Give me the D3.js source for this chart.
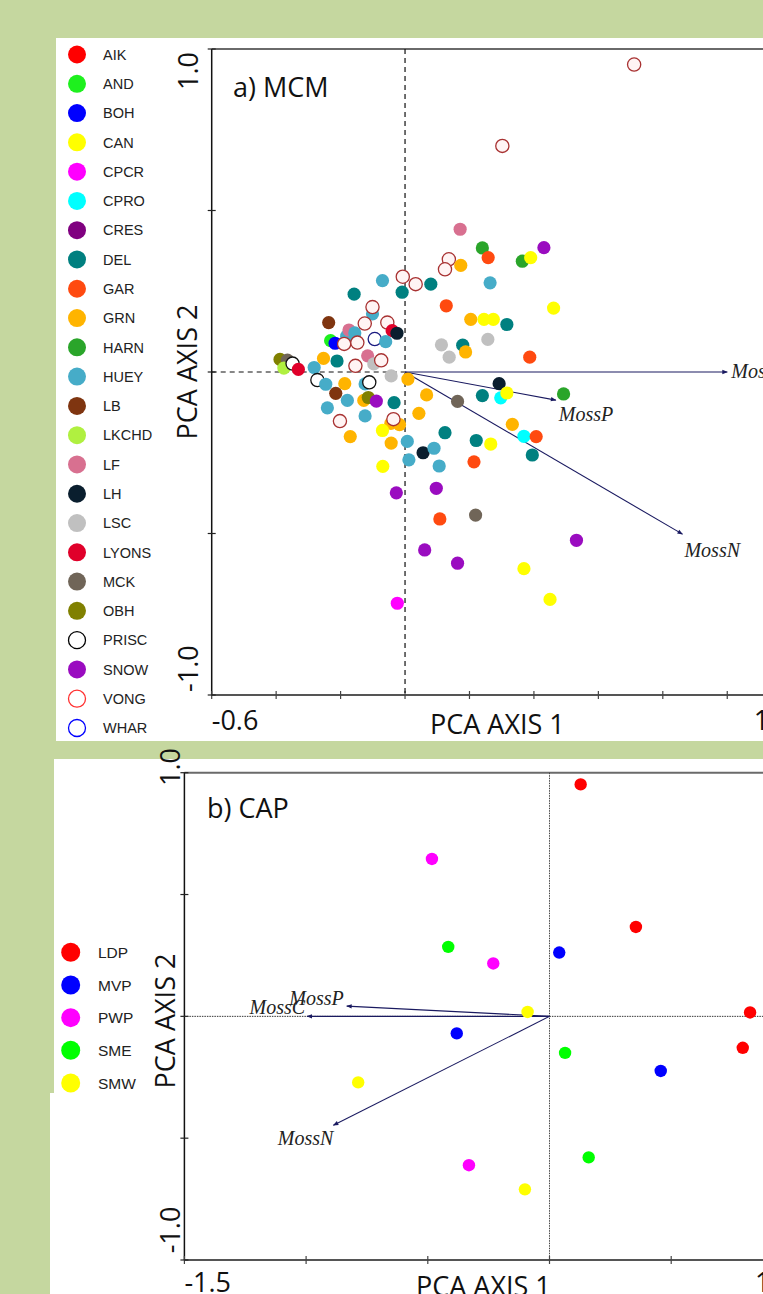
<!DOCTYPE html>
<html><head><meta charset="utf-8">
<script src="https://cdn.jsdelivr.net/npm/d3@7/dist/d3.min.js"></script>
<style>html,body{margin:0;padding:0;background:#c5d79f;overflow:hidden}</style>
</head><body><svg id="c" width="763" height="1294"></svg>
<script>
// ---------- Panel a) MCM ----------
const mcmGroups = ["AIK","AND","BOH","CAN","CPCR","CPRO","CRES","DEL","GAR","GRN","HARN","HUEY","LB","LKCHD","LF","LH","LSC","LYONS","MCK","OBH","PRISC","SNOW","VONG","WHAR"];
const mcmColors = ["#ff0000","#1ef01e","#0000ff","#ffff00","#ff00ff","#00ffff","#800080","#008080","#ff4a10","#ffb400","#2aa52a","#46acc8","#7f3510","#b0f040","#d87090","#0a1e2e","#c0c0c0","#e0002a","#706558","#808000","#000000","#9a0cc0","#ff3030","#0000ff"];
const mcmOpenGroups = ["PRISC","VONG","WHAR"];
const mcmOpenPlotStroke = {PRISC:"#111111", VONG:"#a83232", WHAR:"#1a1a80"};
const mcmPoints = [
  ["OBH",-0.388,0.039],["MCK",-0.365,0.037],["LKCHD",-0.376,0.012],["PRISC",-0.349,0.026],["LYONS",-0.331,0.008],
  ["HUEY",-0.282,0.014],["GRN",-0.253,0.042],["DEL",-0.211,0.034],["LB",-0.237,0.153],["AND",-0.231,0.097],["BOH",-0.217,0.089],
  ["HUEY",-0.181,0.111],["LF",-0.174,0.130],["HUEY",-0.156,0.121],["VONG",-0.189,0.087],["VONG",-0.148,0.091],
  ["DEL",-0.158,0.241],["HUEY",-0.070,0.283],["DEL",-0.009,0.247],["VONG",-0.007,0.295],["VONG",0.033,0.272],["DEL",0.080,0.272],
  ["HUEY",-0.101,0.180],["VONG",-0.101,0.201],["VONG",-0.125,0.150],["VONG",-0.055,0.153],["LYONS",-0.040,0.128],["LH",-0.025,0.120],
  ["WHAR",-0.094,0.102],["HUEY",-0.060,0.094],["LF",-0.116,0.050],["LSC",-0.097,0.025],["VONG",-0.074,0.036],["VONG",-0.154,0.019],
  ["PRISC",-0.272,-0.025],["HUEY",-0.246,-0.038],["GRN",-0.187,-0.036],["HUEY",-0.124,-0.037],["PRISC",-0.111,-0.032],
  ["LSC",-0.043,-0.012],["GRN",0.009,-0.022],["LB",-0.215,-0.066],["HUEY",-0.179,-0.088],["GRN",-0.128,-0.088],["OBH",-0.114,-0.079],
  ["SNOW",-0.089,-0.090],["DEL",-0.034,-0.095],["GRN",0.067,-0.071],["MCK",0.163,-0.091],["HUEY",-0.241,-0.111],["HUEY",-0.124,-0.136],
  ["VONG",-0.202,-0.152],["GRN",-0.044,-0.159],["GRN",-0.017,-0.163],["VONG",-0.036,-0.146],["GRN",0.043,-0.128],["CAN",-0.070,-0.181],
  ["GRN",-0.170,-0.200],["GRN",-0.043,-0.220],["HUEY",0.007,-0.215],["DEL",0.124,-0.188],["DEL",0.221,-0.212],["CAN",0.266,-0.223],
  ["LH",0.056,-0.250],["HUEY",0.090,-0.236],["HUEY",0.012,-0.272],["HUEY",0.106,-0.291],["GAR",0.214,-0.278],["CAN",-0.069,-0.292],
  ["SNOW",-0.027,-0.374],["SNOW",0.097,-0.360],["GAR",0.108,-0.455],["MCK",0.219,-0.443],["SNOW",0.061,-0.551],["SNOW",0.163,-0.592],
  ["CPCR",-0.024,-0.716],["VONG",0.711,0.952],["VONG",0.302,0.700],["LF",0.171,0.442],["HARN",0.240,0.384],["GAR",0.258,0.354],
  ["VONG",0.136,0.349],["VONG",0.124,0.318],["GRN",0.173,0.330],["SNOW",0.431,0.385],["HARN",0.364,0.343],["CAN",0.390,0.354],
  ["HUEY",0.264,0.276],["CAN",0.461,0.198],["GAR",0.128,0.205],["GRN",0.204,0.163],["CAN",0.245,0.163],["CAN",0.274,0.163],
  ["DEL",0.316,0.147],["LSC",0.257,0.101],["LSC",0.113,0.084],["DEL",0.179,0.083],["GRN",0.188,0.062],["LSC",0.137,0.046],
  ["GAR",0.387,0.046],["LH",0.292,-0.036],["DEL",0.240,-0.073],["CPRO",0.297,-0.080],["CAN",0.316,-0.065],["HARN",0.492,-0.068],
  ["GRN",0.333,-0.162],["CPRO",0.369,-0.199],["GAR",0.407,-0.200],["DEL",0.395,-0.257],["SNOW",0.532,-0.521],["CAN",0.369,-0.609],
  ["CAN",0.450,-0.704]
];
const mcmArrows = [["MossC",1.0,0.0],["MossP",0.468,-0.087],["MossN",0.861,-0.502]];
const mcmXTicks = [-0.6,-0.4,-0.2,0,0.2,0.4,0.6,0.8,1.0,1.2];
const mcmYTicks = [-1,-0.5,0,0.5,1];
const mcmXLabels = ["-0.6","1.2"];
const mcmYLabels = ["-1.0","1.0"];

// ---------- Panel b) CAP ----------
const capGroups = ["LDP","MVP","PWP","SME","SMW"];
const capColors = ["#ff0000","#0000ff","#ff00ff","#00ff00","#ffff00"];
const capPoints = [
  ["LDP",0.128,0.952],["PWP",-0.483,0.646],["LDP",0.355,0.367],["SME",-0.416,0.285],["MVP",0.040,0.262],
  ["PWP",-0.231,0.217],["SMW",-0.090,0.018],["LDP",0.824,0.016],["MVP",-0.381,-0.070],["SME",0.064,-0.150],
  ["LDP",0.794,-0.129],["MVP",0.457,-0.224],["SMW",-0.786,-0.271],["PWP",-0.331,-0.611],["SME",0.161,-0.579],
  ["SMW",-0.101,-0.710]
];
const capArrows = [["MossC",-0.996,0.0],["MossP",-0.833,0.042],["MossN",-0.888,-0.447]];
const capXTicks = [-1.5,-1.0,-0.5,0,0.5,1.0];
const capYTicks = [-1,-0.5,0,0.5,1];
const capXLabels = ["-1.5","1.0"];
const capYLabels = ["-1.0","1.0"];

const svg = d3.select("#c");
const SANS = "'Open Sans', sans-serif";
const LEG = "'Liberation Sans', Arial, sans-serif";
const SERIF = "'Liberation Serif', 'Times New Roman', serif";

// backgrounds
svg.append("rect").attr("width",763).attr("height",1294).attr("fill","#c5d79f");
svg.append("rect").attr("x",56).attr("y",38).attr("width",707).attr("height",703).attr("fill","#fff");
svg.append("rect").attr("x",54).attr("y",759).attr("width",709).attr("height",535).attr("fill","#fff");
svg.append("rect").attr("x",50).attr("y",1093).attr("width",713).attr("height",201).attr("fill","#fff");

const defs = svg.append("defs");
defs.append("marker").attr("id","ah").attr("viewBox","0 0 10 10").attr("refX",9).attr("refY",5)
  .attr("markerWidth",7).attr("markerHeight",5).attr("orient","auto")
  .append("path").attr("d","M0,1 L10,5 L0,9 Z").attr("fill","#1a1a60");

function frame(g, x, y, xt, yt) {
  const [x0,x1] = x.domain(), [y0,y1] = y.domain();
  g.append("line").attr("x1",x(x0)).attr("x2",770).attr("y1",y(y1)).attr("y2",y(y1))
    .attr("stroke","#6a6a6a").attr("stroke-width",2);
  g.append("line").attr("x1",x(x0)).attr("x2",770).attr("y1",y(y0)).attr("y2",y(y0))
    .attr("stroke","#555").attr("stroke-width",2);
  g.append("line").attr("x1",x(x0)).attr("x2",x(x0)).attr("y1",y(y1)).attr("y2",y(y0))
    .attr("stroke","#111").attr("stroke-width",1.5);
  g.selectAll(".xt").data(xt).join("line").attr("x1",d=>x(d)).attr("x2",d=>x(d))
    .attr("y1",y(y0)-4).attr("y2",y(y0)+4).attr("stroke","#444").attr("stroke-width",1.2);
  g.selectAll(".yt").data(yt).join("line").attr("class","yt").attr("y1",d=>y(d)).attr("y2",d=>y(d))
    .attr("x1",x(x0)-4).attr("x2",x(x0)+4).attr("stroke","#222").attr("stroke-width",1.2);
}

// ===== Panel a =====
{
  const x = d3.scaleLinear().domain([-0.6,1.2]).range([211.7,791.7]);
  const y = d3.scaleLinear().domain([-1,1]).range([695,49]);
  const g = svg.append("g");
  frame(g, x, y, mcmXTicks, mcmYTicks);
  g.append("line").attr("x1",x(0)).attr("x2",x(0)).attr("y1",y(1)).attr("y2",y(-1))
    .attr("stroke","#111").attr("stroke-width",1.2).attr("stroke-dasharray","5,4");
  g.append("line").attr("x1",x(-0.6)).attr("x2",x(0)).attr("y1",y(0)).attr("y2",y(0))
    .attr("stroke","#111").attr("stroke-width",1.2).attr("stroke-dasharray","5,4");
  g.selectAll(".arr").data(mcmArrows).join("line")
    .attr("x1",x(0)).attr("y1",y(0)).attr("x2",d=>x(d[1])).attr("y2",d=>y(d[2]))
    .attr("stroke","#1a1a60").attr("stroke-width",1.1).attr("marker-end","url(#ah)");
  const lblOff = {MossC:[4,6], MossP:[3,21], MossN:[2,23]};
  g.selectAll(".al").data(mcmArrows).join("text")
    .attr("x",d=>x(d[1])+lblOff[d[0]][0]).attr("y",d=>y(d[2])+lblOff[d[0]][1])
    .attr("font-family",SERIF).attr("font-style","italic").attr("font-size",20).attr("fill","#222")
    .text(d=>d[0]);
  const colOf = n => mcmColors[mcmGroups.indexOf(n)];
  g.selectAll(".pt").data(mcmPoints).join("circle")
    .attr("cx",d=>x(d[1])).attr("cy",d=>y(d[2])).attr("r",6.6)
    .attr("fill",d=>mcmOpenGroups.includes(d[0]) ? (d[0]==="VONG"?"#fff4f4":"#fff") : colOf(d[0]))
    .attr("stroke",d=>mcmOpenGroups.includes(d[0]) ? mcmOpenPlotStroke[d[0]] : "none")
    .attr("stroke-width",1.3);
  g.append("text").attr("x",233).attr("y",97).attr("font-family",SANS).attr("font-size",27).attr("fill","#111").text("a) MCM");
  g.append("text").attr("x",x(-0.6)).attr("y",730).attr("font-family",SANS).attr("font-size",27).attr("fill","#111").text(mcmXLabels[0]);
  g.append("text").attr("x",x(1.2)).attr("y",730).attr("text-anchor","end").attr("font-family",SANS).attr("font-size",27).attr("fill","#111").text(mcmXLabels[1]);
  g.append("text").attr("x",430).attr("y",734).attr("font-family",SANS).attr("font-size",27).attr("fill","#111").text("PCA AXIS 1");
  g.append("text").attr("transform",`translate(198,${y(-1)-3}) rotate(-90)`).attr("font-family",SANS).attr("font-size",27).attr("fill","#111").text(mcmYLabels[0]);
  g.append("text").attr("transform",`translate(198,${y(1)+3}) rotate(-90)`).attr("text-anchor","end").attr("font-family",SANS).attr("font-size",27).attr("fill","#111").text(mcmYLabels[1]);
  g.append("text").attr("transform",`translate(197,${y(0)}) rotate(-90)`).attr("text-anchor","middle").attr("font-family",SANS).attr("font-size",27).attr("fill","#111").text("PCA AXIS 2");
  const lg = g.append("g");
  const ly = d3.scaleLinear().domain([0, mcmGroups.length-1]).range([54.5, 728]);
  lg.selectAll("circle").data(mcmGroups).join("circle")
    .attr("cx",77).attr("cy",(d,i)=>ly(i)).attr("r",d=>mcmOpenGroups.includes(d)?8.5:9)
    .attr("fill",(d,i)=>mcmOpenGroups.includes(d)?"#fff":mcmColors[i])
    .attr("stroke",(d,i)=>mcmOpenGroups.includes(d)?mcmColors[i]:"none").attr("stroke-width",1.3);
  lg.selectAll("text").data(mcmGroups).join("text")
    .attr("x",103).attr("y",(d,i)=>ly(i)+5.3).attr("font-family",LEG).attr("font-size",14.5).attr("fill","#222").text(d=>d);
}

// ===== Panel b =====
{
  const x = d3.scaleLinear().domain([-1.5,1.0]).range([184.4,792.9]);
  const y = d3.scaleLinear().domain([-1,1]).range([1260,772.7]);
  const g = svg.append("g");
  frame(g, x, y, capXTicks, capYTicks);
  g.append("line").attr("x1",x(0)).attr("x2",x(0)).attr("y1",y(1)).attr("y2",y(-1))
    .attr("stroke","#444").attr("stroke-width",1).attr("stroke-dasharray","1.5,1");
  g.append("line").attr("x1",x(-1.5)).attr("x2",770).attr("y1",y(0)).attr("y2",y(0))
    .attr("stroke","#333").attr("stroke-width",1).attr("stroke-dasharray","1.5,1");
  g.selectAll(".arr").data(capArrows).join("line")
    .attr("x1",x(0)).attr("y1",y(0)).attr("x2",d=>x(d[1])).attr("y2",d=>y(d[2]))
    .attr("stroke","#1a1a60").attr("stroke-width",1.1).attr("marker-end","url(#ah)");
  const lblOff = {MossC:[-2,-2], MossP:[-3,-1], MossN:[0,20]};
  g.selectAll(".al").data(capArrows).join("text")
    .attr("x",d=>x(d[1])+lblOff[d[0]][0]).attr("y",d=>y(d[2])+lblOff[d[0]][1])
    .attr("text-anchor","end")
    .attr("font-family",SERIF).attr("font-style","italic").attr("font-size",20).attr("fill","#222")
    .text(d=>d[0]);
  g.selectAll(".pt").data(capPoints).join("circle")
    .attr("cx",d=>x(d[1])).attr("cy",d=>y(d[2])).attr("r",6.2)
    .attr("fill",d=>capColors[capGroups.indexOf(d[0])]);
  g.append("text").attr("x",207).attr("y",818).attr("font-family",SANS).attr("font-size",27).attr("fill","#111").text("b) CAP");
  g.append("text").attr("x",x(-1.5)).attr("y",1292).attr("font-family",SANS).attr("font-size",27).attr("fill","#111").text(capXLabels[0]);
  g.append("text").attr("x",x(1.0)).attr("y",1292).attr("text-anchor","end").attr("font-family",SANS).attr("font-size",27).attr("fill","#111").text(capXLabels[1]);
  g.append("text").attr("x",416).attr("y",1296).attr("font-family",SANS).attr("font-size",27).attr("fill","#111").text("PCA AXIS 1");
  g.append("text").attr("transform",`translate(180,1230) rotate(-90)`).attr("text-anchor","middle").attr("font-family",SANS).attr("font-size",27).attr("fill","#111").text(capYLabels[0]);
  g.append("text").attr("transform",`translate(180,767) rotate(-90)`).attr("text-anchor","middle").attr("font-family",SANS).attr("font-size",27).attr("fill","#111").text(capYLabels[1]);
  g.append("text").attr("transform",`translate(175,1021) rotate(-90)`).attr("text-anchor","middle").attr("font-family",SANS).attr("font-size",27).attr("fill","#111").text("PCA AXIS 2");
  const lg = g.append("g");
  const ly = d3.scaleLinear().domain([0, capGroups.length-1]).range([952.3, 1083]);
  lg.selectAll("circle").data(capGroups).join("circle")
    .attr("cx",70.7).attr("cy",(d,i)=>ly(i)).attr("r",9.5).attr("fill",(d,i)=>capColors[i]);
  lg.selectAll("text").data(capGroups).join("text")
    .attr("x",98).attr("y",(d,i)=>ly(i)+5.8).attr("font-family",LEG).attr("font-size",15.5).attr("fill","#222").text(d=>d);
}
</script></body></html>
